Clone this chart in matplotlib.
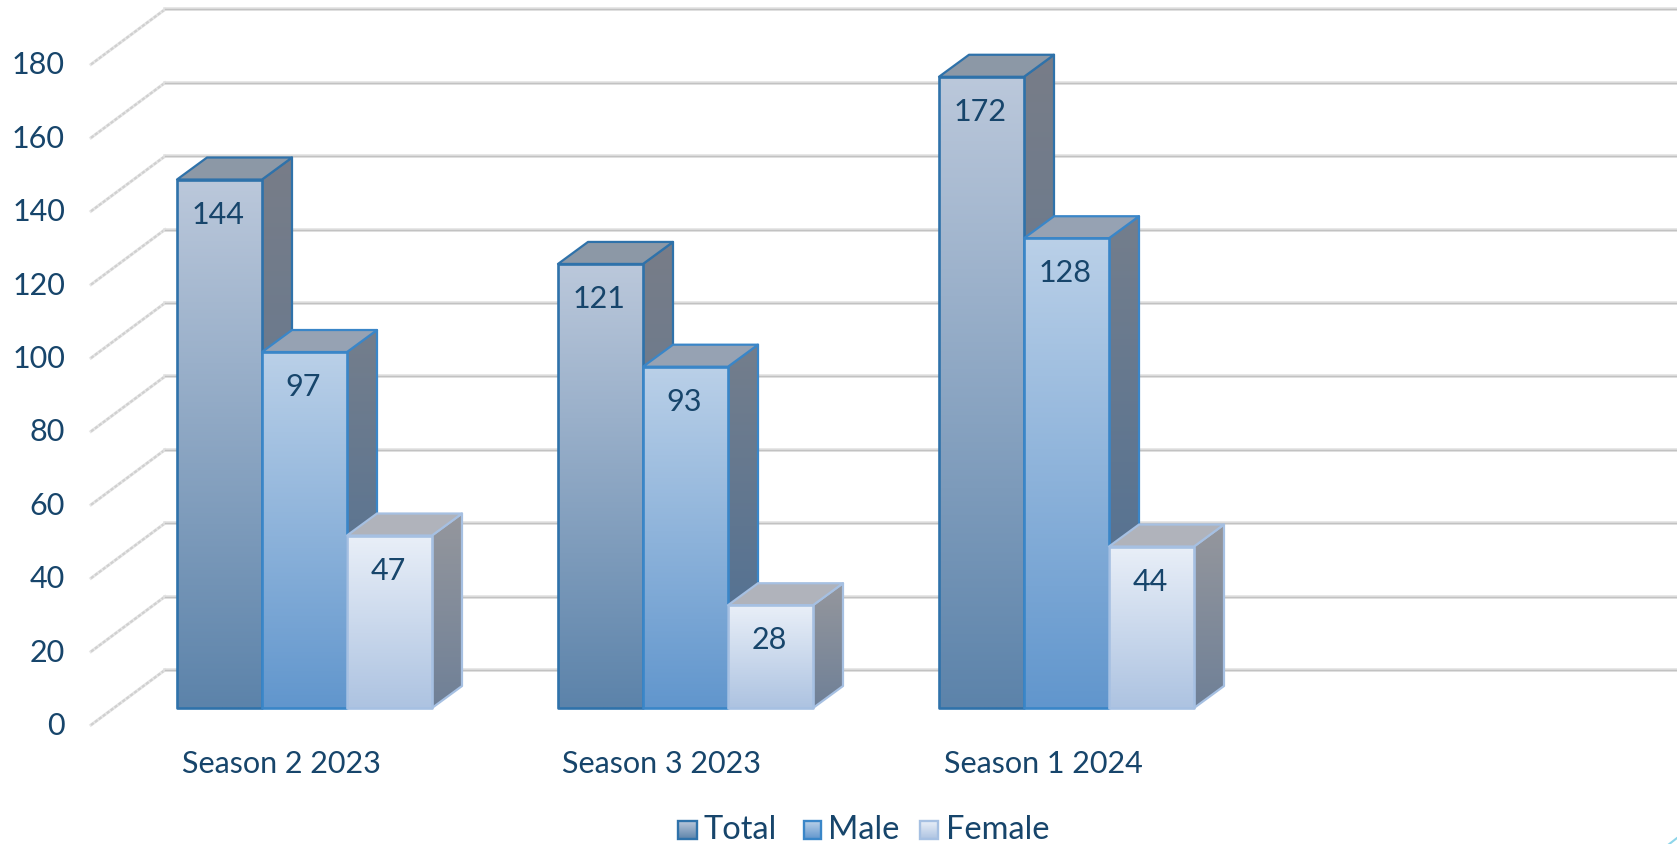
import matplotlib
matplotlib.use("Agg")
import matplotlib.pyplot as plt
import numpy as np
from matplotlib.colors import LinearSegmentedColormap
from matplotlib.patches import Polygon

plt.rcParams["font.family"] = ["Lato", "DejaVu Sans"]

categories = ["Season 2 2023", "Season 3 2023", "Season 1 2024"]
series_names = ["Total", "Male", "Female"]
total = [144, 121, 172]
male = [97, 93, 128]
female = [47, 28, 44]
y_ticks = [0, 20, 40, 60, 80, 100, 120, 140, 160, 180]

TEXT = "#17456b"
STYLES = {
    "Total": dict(front=("#bbc8db", "#5c83aa"), side=("#787d88", "#567596"), top="#8c98a6", edge="#2f72aa"),
    "Male": dict(front=("#bad0e8", "#6196cd"), side=("#747e8c", "#4a6e95"), top="#96a2b3", edge="#3a86c8"),
    "Female": dict(front=("#e9eff8", "#adc3e1"), side=("#95979d", "#6f8097"), top="#b0b3bb", edge="#a6c0e2"),
}

W, H = 1677, 844
BASE = 708  # pixel row of the bar bases
PX_Y = 3.67  # pixels per value unit
PX_X = 381  # pixels per category slot
bar_w = 85 / PX_X
dx = 30 / PX_X
dy = 22 / PX_Y

fig = plt.figure(figsize=(W / 100, H / 100), dpi=100, facecolor="white")
ax = fig.add_axes([0, 0, 1, 1])
ax.set_axis_off()
xlim = (-177 / PX_X, (W - 177) / PX_X)
ylim = ((BASE - H) / PX_Y, BASE / PX_Y)


def gradient_fill(poly, colors, z):
    xs = [p[0] for p in poly]
    ys = [p[1] for p in poly]
    cmap = LinearSegmentedColormap.from_list("g", [colors[1], colors[0]])
    im = ax.imshow(
        np.linspace(0, 1, 256).reshape(-1, 1),
        extent=(min(xs), max(xs), min(ys), max(ys)),
        origin="lower",
        aspect="auto",
        cmap=cmap,
        zorder=z,
        interpolation="bilinear",
    )
    clip = Polygon(poly, closed=True, transform=ax.transData)
    im.set_clip_path(clip)


# gridlines and the jagged wall lines
grid_x0 = (91 - 177) / PX_X
grid_x1 = (165 - 177) / PX_X
front_off = (BASE - 725) / PX_Y
back_off = (BASE - 670) / PX_Y
for v in y_ticks:
    ax.plot([grid_x0, grid_x1], [v + front_off, v + back_off], color="#e6e6e6", lw=2.2, zorder=1)
    ax.plot([grid_x0, grid_x1], [v + front_off, v + back_off], color="#d0d0d0", lw=1.6, zorder=1, ls=(0, (1.5, 0.7)))
    ax.plot([grid_x1, xlim[1]], [v + back_off, v + back_off], color="#e2e2e2", lw=2.6, zorder=1)
    ax.plot([grid_x1, xlim[1]], [v + back_off, v + back_off], color="#c2c2c2", lw=1.0, zorder=1)
    ax.text((65 - 177) / PX_X, v + (BASE - 726) / PX_Y, str(v), ha="right", va="center", color=TEXT, fontsize=22)

# bars, drawn left to right so that each one covers the side of the previous
z = 3
for i, cat in enumerate(categories):
    for j, (name, vals) in enumerate(zip(series_names, [total, male, female])):
        st = STYLES[name]
        v = vals[i]
        x0 = i + j * bar_w
        x1 = x0 + bar_w
        side = [(x1, 0), (x1 + dx, dy), (x1 + dx, v + dy), (x1, v)]
        top = [(x0, v), (x0 + dx, v + dy), (x1 + dx, v + dy), (x1, v)]
        front = [(x0, 0), (x1, 0), (x1, v), (x0, v)]
        gradient_fill(side, st["side"], z)
        ax.add_patch(Polygon(side, closed=True, fill=False, ec=st["edge"], lw=1.6, zorder=z + 0.1, joinstyle="round"))
        ax.add_patch(Polygon(top, closed=True, fc=st["top"], ec=st["edge"], lw=1.6, zorder=z + 0.2, joinstyle="round"))
        gradient_fill(front, st["front"], z + 0.3)
        ax.add_patch(Polygon(front, closed=True, fill=False, ec=st["edge"], lw=1.9, zorder=z + 0.4, joinstyle="round"))
        ax.text((x0 + x1) / 2 - 1.5 / PX_X, v - 35 / PX_Y, str(v), ha="center", va="center", color=TEXT, fontsize=22, zorder=50)
        z += 1
    ax.text(i + (281 - 177) / PX_X, (BASE - 764) / PX_Y, cat, ha="center", va="center", color=TEXT, fontsize=22)

# legend
legend_boxes = [(678, 697, 703), (804, 821, 828), (920, 938, 946)]
for name, (b0, b1, tx) in zip(series_names, legend_boxes):
    st = STYLES[name]
    lx0, lx1 = (b0 - 177) / PX_X, (b1 - 177) / PX_X
    ly0, ly1 = (BASE - 839) / PX_Y, (BASE - 821) / PX_Y
    square = [(lx0, ly0), (lx1, ly0), (lx1, ly1), (lx0, ly1)]
    gradient_fill(square, st["front"], 60)
    ax.add_patch(Polygon(square, closed=True, fill=False, ec=st["edge"], lw=1.7, zorder=61))
    ax.text((tx - 177) / PX_X, (BASE - 830) / PX_Y, name, ha="left", va="center", color=TEXT, fontsize=23.5, zorder=61)

# little slide decoration in the corner
ax.plot([(1668 - 177) / PX_X, (1677 - 177) / PX_X], [(BASE - 845) / PX_Y, (BASE - 838) / PX_Y], color="#8fd6ea", lw=1.5, zorder=2)

ax.set_xlim(*xlim)
ax.set_ylim(*ylim)
fig.savefig("out.png", dpi=100)
